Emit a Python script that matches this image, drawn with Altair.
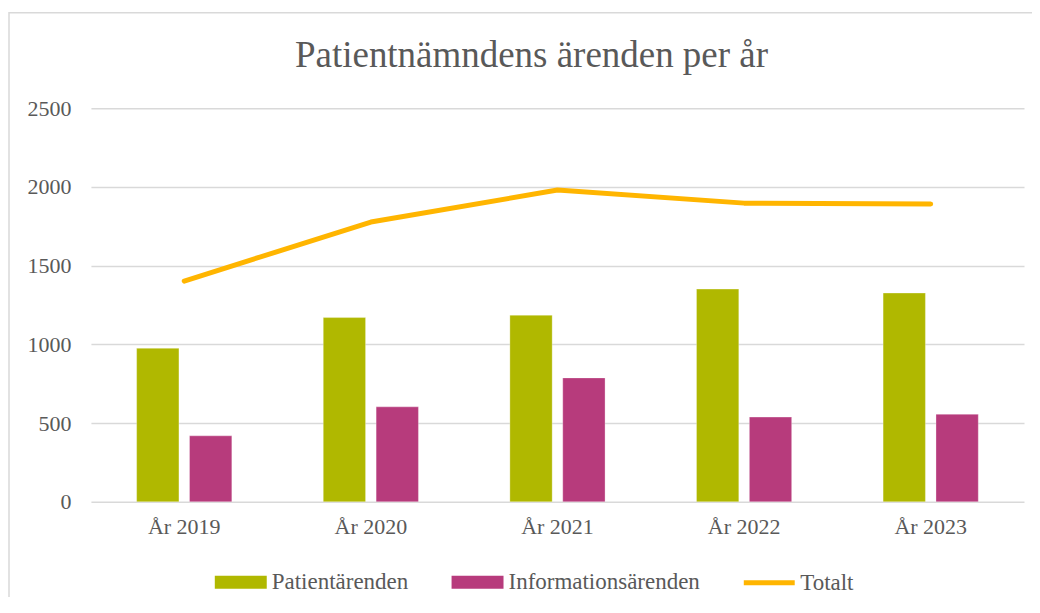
import altair as alt
import pandas as pd

years = ["År 2019", "År 2020", "År 2021", "År 2022", "År 2023"]
patientarenden = [975, 1170, 1185, 1351, 1326]
informationsarenden = [419, 603, 787, 538, 556]
totalt = [1402, 1777, 1980, 1897, 1891]

series_bars = ["Patientärenden", "Informationsärenden"]
bar_colors = ["#B0B800", "#B73B7C"]
line_color = "#FFB500"
text_color = "#595959"
grid_color = "#D9D9D9"
FONT = "Liberation Serif"

bars_df = pd.DataFrame(
    {
        "år": years * 2,
        "serie": [series_bars[0]] * len(years) + [series_bars[1]] * len(years),
        "antal": patientarenden + informationsarenden,
    }
)
line_df = pd.DataFrame({"år": years, "serie": ["Totalt"] * len(years), "antal": totalt})

W, H = 934, 394

x_enc = alt.X(
    "år:N",
    sort=years,
    title=None,
    scale=alt.Scale(paddingInner=0.49, paddingOuter=0.245),
    axis=alt.Axis(
        labelAngle=0,
        domain=False,
        ticks=False,
        labelPadding=15,
        labelFont=FONT,
        labelFontSize=22,
        labelColor=text_color,
        grid=False,
    ),
)
y_enc = alt.Y(
    "antal:Q",
    title=None,
    scale=alt.Scale(domain=[0, 2500], nice=False),
    axis=alt.Axis(
        values=[0, 500, 1000, 1500, 2000, 2500],
        format="d",
        domain=False,
        ticks=False,
        labelPadding=20,
        labelFont=FONT,
        labelFontSize=22,
        labelColor=text_color,
        grid=True,
        gridColor=grid_color,
        gridWidth=1.5,
    ),
)

bars = (
    alt.Chart(bars_df)
    .mark_bar(stroke="#FFFFFF", strokeWidth=0.6, strokeOpacity=0.5)
    .encode(
        x=x_enc,
        y=y_enc,
        xOffset=alt.XOffset(
            "serie:N", sort=series_bars, scale=alt.Scale(paddingInner=0.2, paddingOuter=0)
        ),
        color=alt.Color(
            "serie:N",
            scale=alt.Scale(domain=series_bars, range=bar_colors),
            title=None,
            legend=alt.Legend(
                orient="none",
                legendX=124,
                legendY=448.5,
                direction="horizontal",
                symbolType="M-1,-0.25H1V0.25H-1Z",
                symbolSize=2704,
                symbolStrokeWidth=0,
                symbolOpacity=1,
                labelOffset=5,
                columnPadding=43,
                labelLimit=0,
                labelFont=FONT,
                labelFontSize=23,
                labelColor=text_color,
            ),
        ),
    )
)

line = (
    alt.Chart(line_df)
    .mark_line(strokeWidth=5, strokeCap="round", strokeJoin="round")
    .encode(
        x=x_enc,
        y=y_enc,
        stroke=alt.Stroke(
            "serie:N",
            scale=alt.Scale(domain=["Totalt"], range=[line_color]),
            title=None,
            legend=alt.Legend(
                orient="none",
                legendX=651,
                legendY=447,
                direction="horizontal",
                symbolType="stroke",
                symbolSize=2600,
                symbolStrokeWidth=5,
                labelOffset=3,
                labelLimit=0,
                labelFont=FONT,
                labelFontSize=23,
                labelColor=text_color,
            ),
        ),
    )
)

frame = (
    alt.Chart(pd.DataFrame({"f": [0]}))
    .mark_rect(filled=False, stroke=grid_color, strokeWidth=1.5)
    .encode(
        x=alt.value(-82),
        x2=alt.value(W + 200),
        y=alt.value(-95.5),
        y2=alt.value(H + 200),
    )
)

chart = (
    alt.layer(frame, bars, line)
    .resolve_scale(color="independent")
    .properties(
        width=W,
        height=H,
        background="white",
        view=alt.ViewBackground(stroke="transparent", strokeWidth=0),
        autosize=alt.AutoSizeParams(type="none"),
        padding={"left": 83, "top": 100, "right": 8, "bottom": 95},
        title=alt.TitleParams(
            "Patientnämndens ärenden per år",
            font=FONT,
            fontSize=37,
            fontWeight="normal",
            color=text_color,
            anchor="middle",
            frame="group",
            dx=-26,
            offset=-92,
            baseline="alphabetic",
        ),
    )
    .configure_view(strokeWidth=0, stroke="transparent")
)

chart.save("out.html", embed_options={"renderer": "svg", "actions": False})
